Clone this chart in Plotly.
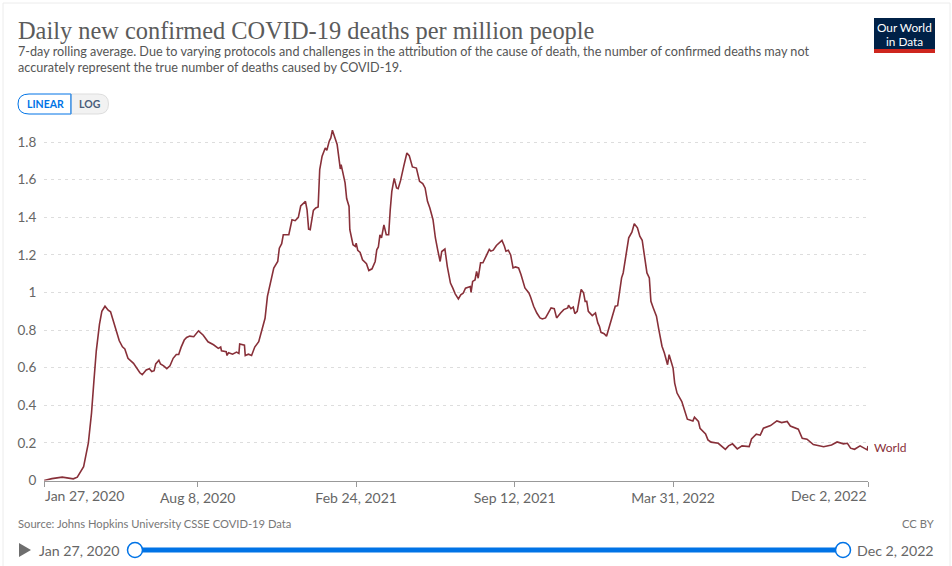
import pandas as pd
import plotly.graph_objects as go

W, H = 952, 566
START_DATE = "2020-01-27"
END_DATE = "2022-12-02"
SERIES_NAME = "World"
TITLE = "Daily new confirmed COVID-19 deaths per million people"
SUBTITLE_1 = "7-day rolling average. Due to varying protocols and challenges in the attribution of the cause of death, the number of confirmed deaths may not"
SUBTITLE_2 = "accurately represent the true number of deaths caused by COVID-19."
SOURCE = "Source: Johns Hopkins University CSSE COVID-19 Data"

y_ticks = [0.2, 0.4, 0.6, 0.8, 1, 1.2, 1.4, 1.6, 1.8]
x_tick_dates = ["2020-01-27", "2020-08-08", "2021-02-24", "2021-09-12", "2022-03-31", "2022-12-02"]
x_tick_labels = ["Jan 27, 2020", "Aug 8, 2020", "Feb 24, 2021", "Sep 12, 2021", "Mar 31, 2022", "Dec 2, 2022"]

days_since_start = [
    0,10,23,37,42,50,56,60,63,66,70,73,77,81,84,88,92,95,99,102,106,113,117,121,124,129,133,136,139,141,
    145,147,151,155,159,163,167,170,173,177,180,184,189,193,195,201,207,214,220,223,224,230,231,233,238,
    243,246,247,253,254,258,262,266,271,275,279,282,286,290,295,297,300,302,309,313,317,321,324,330,332,
    334,336,340,343,346,348,351,355,357,360,362,364,367,370,373,374,375,378,380,382,385,386,390,393,394,
    396,399,402,407,410,414,418,420,422,424,426,429,432,435,437,439,442,445,447,450,454,458,461,465,470,
    474,478,481,484,487,491,494,497,500,502,506,509,513,516,519,523,526,529,532,538,539,541,544,546,548,
    551,554,558,562,564,567,571,575,578,581,583,586,589,592,595,599,602,607,612,614,618,622,626,629,633,
    636,640,644,647,652,656,661,662,665,668,670,673,676,678,681,683,685,687,692,696,699,701,703,707,710,
    715,718,721,724,726,729,731,734,738,742,745,749,752,755,757,761,764,766,769,773,776,780,783,787,789,
    794,796,799,805,809,812,819,821,826,828,835,838,842,851,860,864,869,875,881,890,893,899,904,908,917,
    925,931,938,942,952,957,963,971,984,994,1001,1009,1014,1018,1023,1030,1035,1039,1040,
]
deaths_per_million = [
    0.0,.01,.018,.009,.018,.074,.2,.36,.53,.69,.83,.90,.927,.906,.897,.835,.786,.743,.711,.70,.65,.623,.60,.573,.563,.588,.595,.58,.584,.62,
    .64,.62,.61,.595,.61,.65,.67,.67,.708,.747,.761,.768,.765,.79,.796,.773,.738,.722,.703,.71,.69,.685,.665,.68,.672,
    .683,.676,.726,.72,.665,.672,.665,.71,.738,.795,.863,.979,1.06,1.13,1.165,1.236,1.26,1.307,1.307,1.387,1.382,1.40,1.46,1.485,1.44,
    1.337,1.334,1.437,1.45,1.455,1.654,1.725,1.769,1.757,1.805,1.822,1.863,1.83,1.787,1.69,1.657,1.68,1.61,1.583,1.50,1.458,1.334,1.254,1.245,1.263,
    1.224,1.213,1.174,1.153,1.117,1.126,1.165,1.227,1.242,1.307,1.29,1.36,1.307,1.307,1.44,1.538,1.607,1.556,1.552,1.595,1.671,1.742,1.728,1.668,1.662,
    1.591,1.579,1.556,1.485,1.449,1.387,1.29,1.224,1.165,1.218,1.231,1.139,1.05,1.023,.993,.966,.988,.996,1.023,1.032,1.0,1.059,1.067,1.112,1.076,
    1.158,1.158,1.193,1.229,1.22,1.225,1.25,1.264,1.277,1.247,1.22,1.225,1.2,1.131,1.136,1.131,1.096,1.024,.998,.977,.927,.891,.865,.859,.865,
    .888,.918,.914,.865,.891,.909,.918,.932,.914,.923,.888,.9,.971,1.016,.998,.953,.953,.9,.877,.891,.838,.82,.788,.781,.767,
    .838,.891,.927,.93,.998,1.078,1.104,1.193,1.291,1.321,1.366,1.344,1.3,1.278,1.211,1.104,1.078,.953,.918,.874,.802,.714,.678,.616,.669,
    .598,.518,.465,.42,.367,.326,.317,.337,.314,.278,.248,.216,.204,.198,.166,.184,.195,.168,.184,.18,.221,.246,.241,.278,.292,
    .317,.308,.314,.29,.273,.225,.22,.191,.18,.189,.205,.195,.198,.172,.166,.184,.172,.163,.184,
]

dates = pd.Timestamp(START_DATE) + pd.to_timedelta(days_since_start, unit="D")


def px(x):
    return x / W


def py(y):
    return 1 - y / H


LINE_COLOR = "#883039"
TEXT_GREY = "#666666"
BLUE = "#0073e6"

PLOT_L, PLOT_R, PLOT_T, PLOT_B = 44, 868, 125, 480.5
Y_TOP = (PLOT_B - PLOT_T) / 188

fig = go.Figure(
    go.Scatter(
        x=dates, y=deaths_per_million, mode="lines", name=SERIES_NAME,
        line=dict(color=LINE_COLOR, width=1.6), showlegend=False, cliponaxis=False,
    )
)


def text(s, x, y, size, color=TEXT_GREY, anchor="left", family="Lato", bold=False):
    fig.add_annotation(
        text=f"<b>{s}</b>" if bold else s, xref="paper", yref="paper",
        x=px(x), y=py(y), xanchor=anchor, yanchor="middle", showarrow=False,
        font=dict(size=size, color=color, family=family), borderpad=0, borderwidth=0,
    )


def rect(x0, y0, x1, y1, fill=None, line=None, lw=1):
    fig.add_shape(
        type="rect", xref="paper", yref="paper", x0=px(x0), x1=px(x1), y0=py(y0), y1=py(y1),
        fillcolor=fill or "rgba(0,0,0,0)", line=dict(color=line or "rgba(0,0,0,0)", width=lw if line else 0),
    )


def path(points, fill=None, line=None, lw=1, close=True):
    cmds = []
    for i, p in enumerate(points):
        if p[0] == "Q":
            cmds.append(f"Q{px(p[1])},{py(p[2])} {px(p[3])},{py(p[4])}")
        else:
            cmds.append(f"{'M' if i == 0 else 'L'}{px(p[0])},{py(p[1])}")
    fig.add_shape(
        type="path", xref="paper", yref="paper", path=" ".join(cmds) + (" Z" if close else ""),
        fillcolor=fill or "rgba(0,0,0,0)", line=dict(color=line or "rgba(0,0,0,0)", width=lw if line else 0),
    )


def circle(cx, cy, r, fill, line, lw=1.5):
    fig.add_shape(
        type="circle", xref="paper", yref="paper",
        x0=px(cx - r), x1=px(cx + r), y0=py(cy - r), y1=py(cy + r),
        fillcolor=fill, line=dict(color=line, width=lw),
    )


path([(3, 570), (3, 3), (950, 3), (950, 570)], line="#ececec", lw=1, close=False)

text(TITLE, 18, 30, 24.4, color="#5b5b5b", family="Liberation Serif")
text(SUBTITLE_1, 18, 52, 12.65, color="#555555")
text(SUBTITLE_2, 18, 68, 12.65, color="#555555")

rect(874, 18, 935, 49, fill="#002147")
rect(874, 49, 935, 53, fill="#ce261e")
text("Our World", 904.5, 27, 11.8, color="#ffffff", anchor="center")
text("in Data", 904.5, 41.5, 11.8, color="#ffffff", anchor="center")

path([(71, 104), (71, 114), (29, 114), ("Q", 18, 114, 18, 104), ("Q", 18, 94, 29, 94), (71, 94)],
     fill="#ffffff", line=BLUE, lw=1)
path([(71, 94), (98, 94), ("Q", 108.5, 94, 108.5, 104), ("Q", 108.5, 114, 98, 114), (71, 114)],
     fill="#f2f2f2", line="#dddddd", lw=1)
path([(71, 94), (71, 114)], line=BLUE, lw=1, close=False)
text("LINEAR", 45, 104.5, 10.5, color=BLUE, anchor="center", bold=True)
text("LOG", 90, 104.5, 10.5, color="#4a5d7a", anchor="center", bold=True)

fig.add_annotation(text=x_tick_labels[0], xref="x", yref="paper", x=x_tick_dates[0], y=py(495),
                   xanchor="left", yanchor="middle", showarrow=False, borderpad=0,
                   font=dict(size=14, color=TEXT_GREY, family="Lato"))
fig.add_annotation(text=x_tick_labels[-1], xref="x", yref="paper", x=x_tick_dates[-1], y=py(495),
                   xanchor="right", yanchor="middle", showarrow=False, borderpad=0,
                   font=dict(size=14, color=TEXT_GREY, family="Lato"))

fig.add_annotation(text=SERIES_NAME, xref="paper", yref="y", x=px(873), y=0.178, xanchor="left",
                   yanchor="middle", showarrow=False, borderpad=0,
                   font=dict(size=12, color=LINE_COLOR, family="Lato"))

text(SOURCE, 18, 523, 11.2, color="#777777")
text("CC BY", 934, 523, 11.2, color="#777777", anchor="right")

path([(19, 543), (31, 550), (19, 557)], fill="#6e6e6e")
text(x_tick_labels[0], 39, 550, 14.2)
text(x_tick_labels[-1], 934, 550, 14.2, anchor="right")
rect(135, 547.5, 843, 552.5, fill=BLUE)
circle(135, 550, 7.5, "#ffffff", BLUE)
circle(843, 550, 7.5, "#ffffff", BLUE)

fig.update_layout(
    width=W, height=H, autosize=False,
    margin=dict(l=0, r=0, t=0, b=0, autoexpand=False),
    paper_bgcolor="#ffffff", plot_bgcolor="#ffffff",
    font=dict(family="Lato", color=TEXT_GREY),
    xaxis=dict(
        domain=[px(PLOT_L), px(PLOT_R)], type="date", range=[START_DATE, END_DATE],
        automargin=False,
        tickmode="array", tickvals=x_tick_dates, ticktext=[""] + x_tick_labels[1:-1] + [""],
        ticks="outside", ticklen=5, tickwidth=1, tickcolor="#999999",
        showline=True, linecolor="#999999", linewidth=1, showgrid=False, zeroline=False,
        tickfont=dict(size=14, color=TEXT_GREY, family="Lato"), tickangle=0,
    ),
    yaxis=dict(
        domain=[py(PLOT_B), py(PLOT_T)], range=[0, Y_TOP],
        automargin=False,
        tickmode="array", tickvals=[0] + y_ticks, ticktext=["0"] + [str(t) for t in y_ticks],
        ticks="outside", ticklen=4, tickcolor="rgba(0,0,0,0)", showline=False, zeroline=False,
        showgrid=True, gridcolor="#dddddd", griddash="3px,4px", gridwidth=1,
        tickfont=dict(size=13.5, color=TEXT_GREY, family="Lato"),
    ),
)

fig.write_html(
    "out.html",
    config={"displayModeBar": False, "responsive": False},
    post_script="document.body.style.margin='0';document.body.style.overflow='hidden';",
)
